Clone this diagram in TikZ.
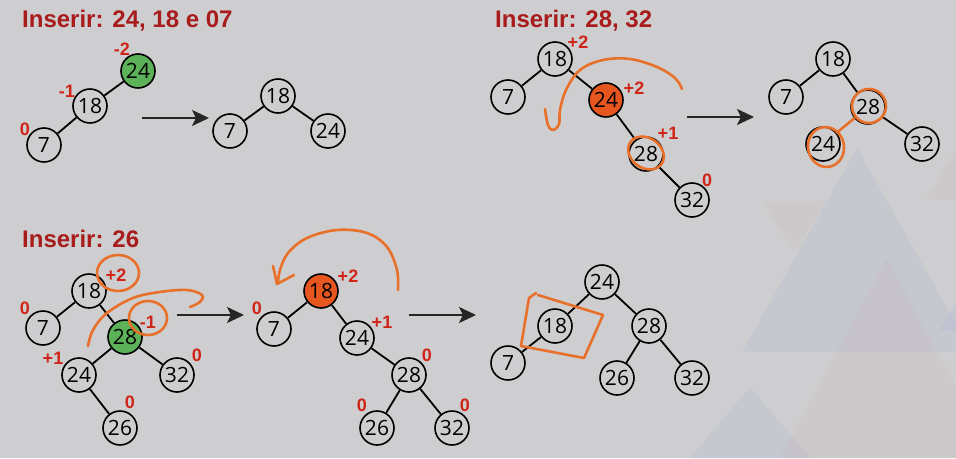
\documentclass[tikz,border=0pt]{standalone}
\usepackage{fontspec}
\setmainfont{Liberation Sans}
\newfontfamily\numfont{Open Sans}
\usetikzlibrary{arrows.meta, positioning, shapes.geometric}
\definecolor{bggray}{RGB}{206,206,208}
\definecolor{fillgreen}{RGB}{92,178,88}
\definecolor{fillorange}{RGB}{230,86,30}
\definecolor{penorange}{RGB}{232,112,42}
\definecolor{balred}{RGB}{208,36,24}
\definecolor{titlered}{RGB}{168,28,28}
\definecolor{triblue}{RGB}{150,160,210}
\definecolor{tripink}{RGB}{200,160,160}
\tikzset{
    avlnode/.style={circle, draw=black, line width=1.6pt, fill=bggray, minimum size=34pt, inner sep=0pt, font=\numfont\fontsize{21}{21}\selectfont},
    greennode/.style={avlnode, fill=fillgreen},
    orangenode/.style={avlnode, fill=fillorange},
    avledge/.style={line width=1.8pt, draw=black},
    avlarrow/.style={-{Stealth[length=17pt,width=16pt,inset=4pt]}, line width=2.2pt, draw=black!85},
    balance/.style={text=balred, font=\bfseries\fontsize{18}{18}\selectfont, inner sep=0pt},
    steptitle/.style={text=titlered, font=\bfseries\fontsize{24}{24}\selectfont, anchor=base west, inner sep=0pt},
    penstroke/.style={draw=penorange, line width=2.6pt, line cap=round, line join=round},
    tri/.style={fill opacity=.13, draw=none}
}
\begin{document}
\begin{tikzpicture}[x=1pt, y=-1pt]
    \fill[bggray] (0,0) rectangle (956,458);
    \useasboundingbox (0,0) rectangle (956,458);

    % background triangles
    \fill[tri, triblue] (742,352) -- (857,148) -- (972,352) -- cycle;
    \fill[tri, tripink] (762,201) -- (826,201) -- (794,252) -- cycle;
    \fill[tri, tripink] (887,258) -- (780,458) -- (994,458) -- cycle;
    \fill[tri, triblue] (750,387) -- (690,458) -- (810,458) -- cycle;
    \fill[tri, tripink] (926,200) -- (956,150) -- (986,200) -- cycle;
    \fill[tri, triblue] (940,330) -- (980,260) -- (1000,330) -- cycle;

    % Inserir: 24, 18 e 07
    \node[steptitle] (t1) at (22,27) {Inserir: 24, 18 e 07};
    \node[greennode] (a24) at (138,71) {24};
    \node[avlnode] (a18) at (90,106) {18};
    \node[avlnode] (a7) at (44,145) {7};
    \node[balance] (ba24) at (122,49) {-2};
    \node[balance] (ba18) at (67,91) {-1};
    \node[balance] (ba7) at (25,129) {0};
    \draw[avledge] (a24) -- (a18);
    \draw[avledge] (a18) -- (a7);
    \coordinate (ar1s) at (142,118);
    \coordinate (ar1e) at (209,118);
    \draw[avlarrow] (ar1s) -- (ar1e);
    \node[avlnode] (b18) at (278,96) {18};
    \node[avlnode] (b7) at (230,131) {7};
    \node[avlnode] (b24) at (328,131) {24};
    \draw[avledge] (b18) -- (b7);
    \draw[avledge] (b18) -- (b24);

    % Inserir: 28, 32
    \node[steptitle] (t2) at (495,27) {Inserir: 28, 32};
    \node[avlnode] (c18) at (555,59) {18};
    \node[avlnode] (c7) at (508,97) {7};
    \node[orangenode] (c24) at (606,100) {24};
    \node[avlnode] (c28) at (646,154) {28};
    \node[avlnode] (c32) at (692,200) {32};
    \node[balance] (bc18) at (578,42) {+2};
    \node[balance] (bc24) at (634,88) {+2};
    \node[balance] (bc28) at (668,133) {+1};
    \node[balance] (bc32) at (707,180) {0};
    \draw[avledge] (c18) -- (c7);
    \draw[avledge] (c18) -- (c24);
    \draw[avledge] (c24) -- (c28);
    \draw[avledge] (c28) -- (c32);
    \draw[penstroke] plot[smooth, tension=.6] coordinates {(545,109) (548,125) (553,130) (559,124) (560,110) (566,90) (580,70) (603,60) (630,59) (657,67) (675,78) (682,89)};
    \draw[penstroke, rotate around={-35:(646,153)}] (646,153) ellipse (19 and 15);
    \coordinate (ar2s) at (687,117);
    \coordinate (ar2e) at (754,117);
    \draw[avlarrow] (ar2s) -- (ar2e);
    \node[avlnode] (d18) at (833,59) {18};
    \node[avlnode] (d7) at (786,97) {7};
    \node[avlnode] (d28) at (868,107) {28};
    \node[avlnode] (d24) at (823,144) {24};
    \node[avlnode] (d32) at (922,144) {32};
    \draw[avledge] (d18) -- (d7);
    \draw[avledge] (d18) -- (d28);
    \draw[avledge] (d28) -- (d32);
    \draw[penstroke] (d28) -- (d24);
    \draw[penstroke, rotate around={20:(869,106)}] (869,106) ellipse (17 and 17);
    \draw[penstroke, rotate around={10:(826,147)}] (826,147) ellipse (18 and 20);

    % Inserir: 26
    \node[steptitle] (t3) at (22,247) {Inserir: 26};
    \node[avlnode] (e18) at (89,291) {18};
    \node[avlnode] (e7) at (43,328) {7};
    \node[greennode] (e28) at (125,337) {28};
    \node[avlnode] (e24) at (79,375) {24};
    \node[avlnode] (e32) at (177,375) {32};
    \node[avlnode] (e26) at (120,428) {26};
    \node[balance] (be18) at (116,275) {+2};
    \node[balance] (be7) at (25,308) {0};
    \node[balance] (be28) at (148,322) {-1};
    \node[balance] (be24) at (53,358) {+1};
    \node[balance] (be32) at (197,355) {0};
    \node[balance] (be26) at (130,402) {0};
    \draw[avledge] (e18) -- (e7);
    \draw[avledge] (e18) -- (e28);
    \draw[avledge] (e28) -- (e24);
    \draw[avledge] (e28) -- (e32);
    \draw[avledge] (e24) -- (e26);
    \draw[penstroke] (118,273) ellipse (21 and 18);
    \draw[penstroke] (148,318) ellipse (19 and 17);
    \draw[penstroke] plot[smooth, tension=.6] coordinates {(88,346) (93,330) (107,313) (133,298) (160,292) (187,290) (202,295) (200,302) (190,307)};
    \coordinate (ar3s) at (177,315);
    \coordinate (ar3e) at (244,315);
    \draw[avlarrow] (ar3s) -- (ar3e);
    \node[orangenode] (f18) at (321,291) {18};
    \node[avlnode] (f7) at (274,329) {7};
    \node[avlnode] (f24) at (357,338) {24};
    \node[avlnode] (f28) at (409,375) {28};
    \node[avlnode] (f26) at (377,428) {26};
    \node[avlnode] (f32) at (452,428) {32};
    \node[balance] (bf18) at (348,276) {+2};
    \node[balance] (bf7) at (257,308) {0};
    \node[balance] (bf24) at (382,322) {+1};
    \node[balance] (bf28) at (427,355) {0};
    \node[balance] (bf26) at (362,405) {0};
    \node[balance] (bf32) at (465,405) {0};
    \draw[avledge] (f18) -- (f7);
    \draw[avledge] (f18) -- (f24);
    \draw[avledge] (f24) -- (f28);
    \draw[avledge] (f28) -- (f26);
    \draw[avledge] (f28) -- (f32);
    \draw[penstroke] plot[smooth, tension=.6] coordinates {(398,290) (397,270) (387,247) (367,233) (337,230) (307,238) (288,253) (280,270) (278,282)};
    \draw[penstroke] (273,266) -- (277,284) -- (294,275);
    \coordinate (ar4s) at (409,315);
    \coordinate (ar4e) at (476,315);
    \draw[avlarrow] (ar4s) -- (ar4e);
    \node[avlnode] (g24) at (602,282) {24};
    \node[avlnode] (g18) at (555,326) {18};
    \node[avlnode] (g28) at (649,326) {28};
    \node[avlnode] (g7) at (508,363) {7};
    \node[avlnode] (g26) at (617,378) {26};
    \node[avlnode] (g32) at (692,378) {32};
    \draw[avledge] (g24) -- (g18);
    \draw[avledge] (g24) -- (g28);
    \draw[avledge] (g18) -- (g7);
    \draw[avledge] (g28) -- (g26);
    \draw[avledge] (g28) -- (g32);
    \draw[penstroke] (538,295) -- (603,315) -- (584,358) -- (521,346) -- (529,298) -- (536,293);
\end{tikzpicture}
\end{document}
